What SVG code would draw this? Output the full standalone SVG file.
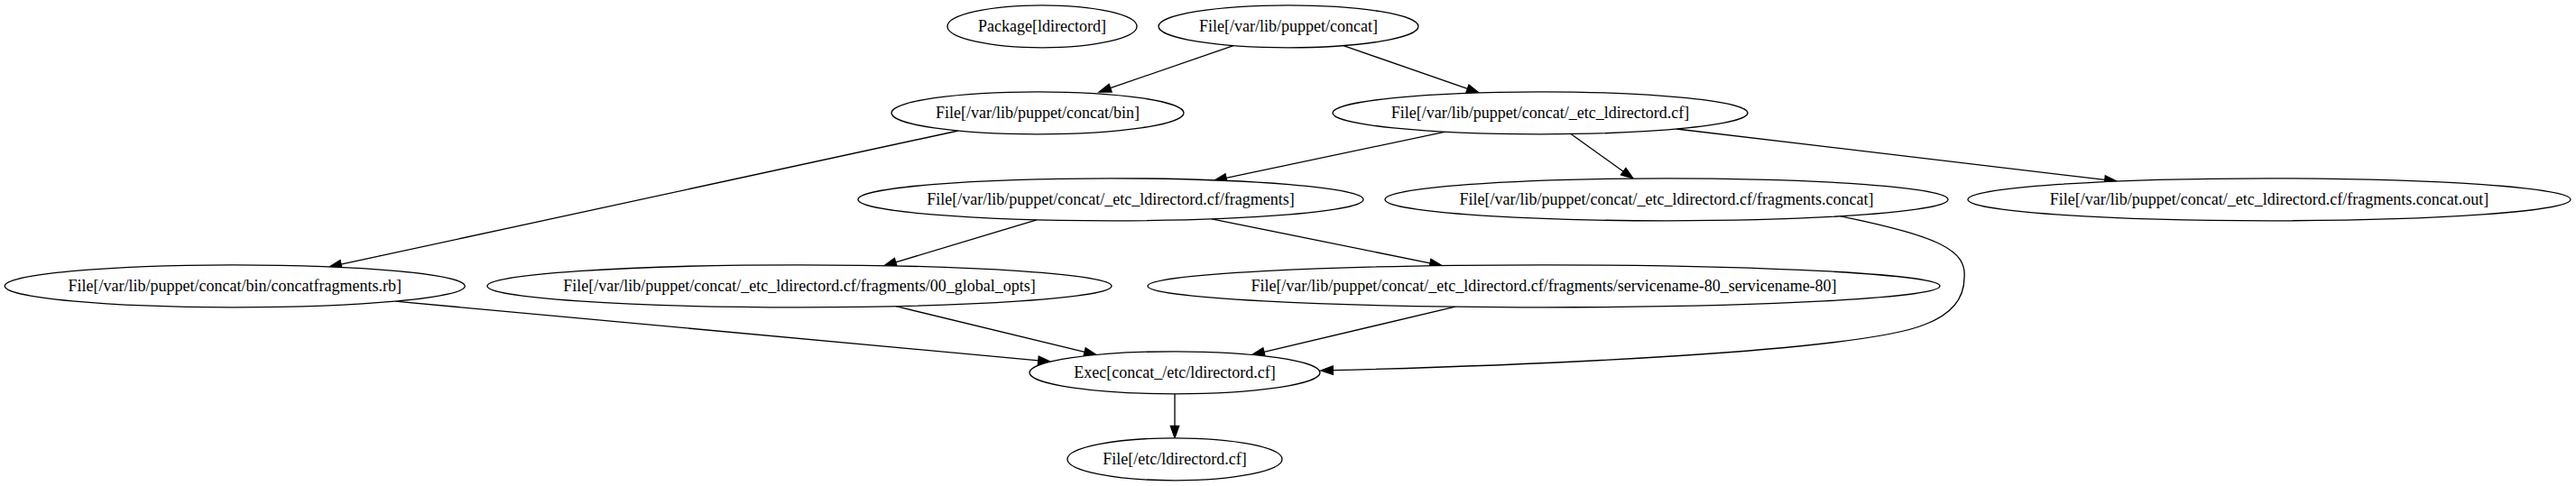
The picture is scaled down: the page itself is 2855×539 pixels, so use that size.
<svg xmlns="http://www.w3.org/2000/svg" width="2855" height="539" viewBox="0 0 2855 539">
<style>
.n ellipse{fill:#fff;stroke:#000;stroke-width:1.33}
.n text{font-family:"Liberation Serif","Times New Roman",serif;font-size:18px;text-anchor:middle;fill:#000}
.e path{fill:none;stroke:#000;stroke-width:1.33;marker-end:url(#ah)}
</style>
<defs>
<marker id="ah" markerUnits="userSpaceOnUse" markerWidth="16" markerHeight="12" refX="0" refY="4.67" orient="auto" overflow="visible">
<path d="M0,0 L13.3,4.67 L0,9.33 Z" fill="#000" stroke="#000" stroke-width="1.33"/>
</marker>
</defs>
<rect width="2855" height="539" fill="#fff"/>
<g id="edges" class="e">
<path d="M1367,50.6 L1230.6,97.7"/>
<path d="M1489,50.6 L1626.4,98.4"/>
<path d="M1062,145 L378,293.2"/>
<path d="M1602,146.2 L1359,197.3"/>
<path d="M1741,148.5 L1799.2,190.2"/>
<path d="M1858,143 L2332.8,199.4"/>
<path d="M1149,243.8 L992.7,290.9"/>
<path d="M1343,242.8 L1585,291.9"/>
<path d="M438,334.1 L1150.8,399.8"/>
<path d="M993,339.7 L1202.1,390.4"/>
<path d="M1613,340.2 L1400.9,390.3"/>
<path d="M2040,239.8 C2150,262 2180,278 2177,308 C2177,330 2165,348 2133,360 C2060,390 1700,405 1477.3,410.7"/>
<path d="M1302,436.8 L1302,472.5"/>
</g>
<g id="package_ldirectord" class="n"><ellipse cx="1155" cy="29.3" rx="105" ry="23.5"/><text x="1155" y="35.3">Package[ldirectord]</text></g>
<g id="file_concat" class="n"><ellipse cx="1428" cy="29.3" rx="144" ry="23.5"/><text x="1428" y="35.3">File[/var/lib/puppet/concat]</text></g>
<g id="file_concat_bin" class="n"><ellipse cx="1150" cy="125.3" rx="162" ry="23.5"/><text x="1150" y="131.3">File[/var/lib/puppet/concat/bin]</text></g>
<g id="file_concat_etc" class="n"><ellipse cx="1707" cy="125.3" rx="230" ry="23.5"/><text x="1707" y="131.3">File[/var/lib/puppet/concat/_etc_ldirectord.cf]</text></g>
<g id="file_fragments" class="n"><ellipse cx="1231" cy="221.3" rx="280" ry="23.5"/><text x="1231" y="227.3">File[/var/lib/puppet/concat/_etc_ldirectord.cf/fragments]</text></g>
<g id="file_fragments_concat" class="n"><ellipse cx="1847" cy="221.3" rx="312" ry="23.5"/><text x="1847" y="227.3">File[/var/lib/puppet/concat/_etc_ldirectord.cf/fragments.concat]</text></g>
<g id="file_fragments_concat_out" class="n"><ellipse cx="2515" cy="221.3" rx="334" ry="23.5"/><text x="2515" y="227.3">File[/var/lib/puppet/concat/_etc_ldirectord.cf/fragments.concat.out]</text></g>
<g id="file_concatfragments_rb" class="n"><ellipse cx="260.3" cy="317.3" rx="255" ry="23.5"/><text x="260.3" y="323.3">File[/var/lib/puppet/concat/bin/concatfragments.rb]</text></g>
<g id="file_global_opts" class="n"><ellipse cx="886" cy="317.3" rx="346" ry="23.5"/><text x="886" y="323.3">File[/var/lib/puppet/concat/_etc_ldirectord.cf/fragments/00_global_opts]</text></g>
<g id="file_servicename" class="n"><ellipse cx="1711" cy="317.3" rx="439" ry="23.5"/><text x="1711" y="323.3">File[/var/lib/puppet/concat/_etc_ldirectord.cf/fragments/servicename-80_servicename-80]</text></g>
<g id="exec_concat" class="n"><ellipse cx="1302" cy="413.3" rx="161" ry="23.5"/><text x="1302" y="419.3">Exec[concat_/etc/ldirectord.cf]</text></g>
<g id="file_etc_ldirectord" class="n"><ellipse cx="1302" cy="509.3" rx="119" ry="23.5"/><text x="1302" y="515.3">File[/etc/ldirectord.cf]</text></g>
</svg>
